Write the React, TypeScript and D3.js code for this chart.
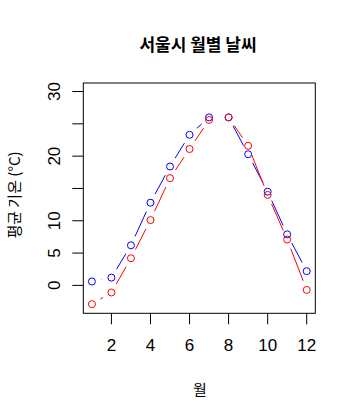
import React from "react";
import * as d3 from "d3";

const months = [1, 2, 3, 4, 5, 6, 7, 8, 9, 10, 11, 12];
const seriesBlue = [0.6, 1.2, 6.2, 12.8, 18.4, 23.3, 26.0, 26.0, 20.3, 14.5, 7.9, 2.2];
const seriesRed = [-2.9, -1.1, 4.2, 10.1, 16.6, 21.1, 25.6, 26.0, 21.6, 14.0, 7.1, -0.7];
const xTicks = [2, 4, 6, 8, 10, 12];
const yTicks = [0, 5, 10, 15, 20, 25, 30];
const yLabels = [0, 5, 10, 20, 30];
const title = "서울시 월별 날씨";
const xTitle = "월";
const yTitle = "평균 기온 (°C)";

const W = 358, H = 418;
const L = 83.3, R = 315.3, T = 83, B = 313.3;

export default function App() {
  const x = d3.scaleLinear().domain([1 - 11 * 0.04, 12 + 11 * 0.04]).range([L, R]);
  const y = d3.scaleLinear().domain([-3 - 33 * 0.04, 30 + 33 * 0.04]).range([B, T]);
  const gap = 9.8;
  const num = "'Liberation Sans', Arial, sans-serif";
  const kr = "'Noto Sans CJK KR', sans-serif";

  const segs = (vals: number[]) => {
    const out: { x1: number; y1: number; x2: number; y2: number }[] = [];
    for (let i = 0; i < vals.length - 1; i++) {
      const ax = x(months[i]), ay = y(vals[i]);
      const bx = x(months[i + 1]), by = y(vals[i + 1]);
      const dx = bx - ax, dy = by - ay;
      const d = Math.hypot(dx, dy);
      if (d <= 2 * gap) continue;
      const ux = dx / d, uy = dy / d;
      out.push({ x1: ax + ux * gap, y1: ay + uy * gap, x2: bx - ux * gap, y2: by - uy * gap });
    }
    return out;
  };

  const series = [
    { vals: seriesBlue, color: "#0000ff" },
    { vals: seriesRed, color: "#ff0000" },
  ];

  return (
    <svg width={W} height={H} style={{ position: "absolute", left: 0, top: 0 }}>
      <rect x={0} y={0} width={W} height={H} fill="#fff" />
      <text x={198} y={45.5} dy="0.35em" textAnchor="middle" fontFamily={kr} fontWeight="bold" fontSize={17}>
        {title}
      </text>
      {series.map((s, k) => (
        <g key={k}>
          {segs(s.vals).map((g, i) => (
            <line key={i} x1={g.x1} y1={g.y1} x2={g.x2} y2={g.y2} stroke={s.color} strokeWidth={1} />
          ))}
          {s.vals.map((v, i) => (
            <circle key={i} cx={x(months[i])} cy={y(v)} r={3.5} fill="none" stroke={s.color} strokeWidth={1} />
          ))}
        </g>
      ))}
      <rect x={L} y={T} width={R - L} height={B - T} fill="none" stroke="#000" strokeWidth={1} />
      {xTicks.map((t) => (
        <g key={t}>
          <line x1={x(t)} x2={x(t)} y1={B} y2={B + 11} stroke="#000" />
          <text x={x(t)} y={345} dy="0.35em" textAnchor="middle" fontFamily={num} fontSize={17}>
            {t}
          </text>
        </g>
      ))}
      {yTicks.map((t) => (
        <line key={t} x1={L - 11} x2={L} y1={y(t)} y2={y(t)} stroke="#000" />
      ))}
      {yLabels.map((t) => (
        <text key={t} transform={`translate(54,${y(t)}) rotate(-90)`} dy="0.35em" textAnchor="middle" fontFamily={num} fontSize={17}>
          {t}
        </text>
      ))}
      <text x={200} y={390} dy="0.35em" textAnchor="middle" fontFamily={kr} fontSize={15}>
        {xTitle}
      </text>
      <text transform={`translate(15,195) rotate(-90)`} dy="0.35em" textAnchor="middle" fontFamily={kr} fontSize={15}>
        {yTitle}
      </text>
    </svg>
  );
}
